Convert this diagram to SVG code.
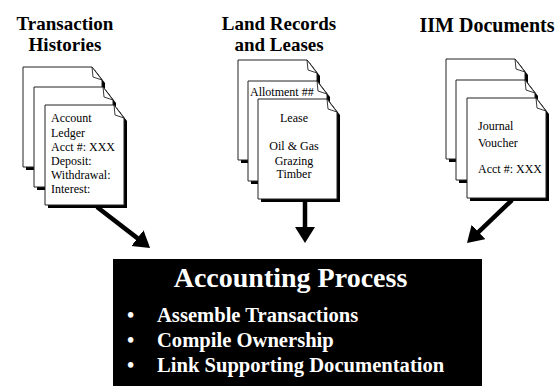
<svg xmlns="http://www.w3.org/2000/svg" width="558" height="386" viewBox="0 0 558 386">
  <style>
    .title { font-family: "Liberation Serif", "Times New Roman", serif; font-weight: bold; font-size: 20px; fill: #000; text-anchor: middle; }
    .title2 { font-size: 19px; }
    .doctext { font-family: "Liberation Serif", "Times New Roman", serif; font-size: 12px; fill: #000; }
    .mid { text-anchor: middle; }
    .proc-title { font-family: "Liberation Serif", "Times New Roman", serif; font-weight: bold; font-size: 28px; fill: #fff; text-anchor: middle; }
    .proc-item { font-family: "Liberation Serif", "Times New Roman", serif; font-weight: bold; font-size: 20.6px; fill: #fff; }
    .conn { stroke: #000; stroke-width: 4.5; fill: none; marker-end: url(#head); }
  </style>
  <defs>
    <!-- page with a dog-eared top-right corner and a drop shadow -->
    <g id="page">
      <path d="M3,3 H72 L82,16 V103 H3 Z" fill="#000"/>
      <path d="M0,0 H69 L79,13 V100 H0 Z" fill="#fff" stroke="#222" stroke-width="1"/>
      <path d="M69,0 L70,10 L79,13 Z" fill="#fff" stroke="#222" stroke-width="0.9"/>
    </g>
    <marker id="head" markerUnits="userSpaceOnUse" markerWidth="18" markerHeight="22" refX="2" refY="10" orient="auto">
      <path d="M0,0 L16,10 L0,20 Z" fill="#000"/>
    </marker>
  </defs>

  <rect width="558" height="386" fill="#fff"/>

  <!-- Transaction Histories -->
  <g id="transaction-histories">
    <text class="title title2" x="65" y="30">Transaction</text>
    <text class="title title2" x="65" y="51">Histories</text>
    <use href="#page" x="23" y="67"/>
    <use href="#page" x="34" y="87"/>
    <use href="#page" x="45" y="105"/>
    <text class="doctext" x="51" y="122">Account</text>
    <text class="doctext" x="51" y="137">Ledger</text>
    <text class="doctext" x="51" y="151">Acct #: XXX</text>
    <text class="doctext" x="51" y="165">Deposit:</text>
    <text class="doctext" x="51" y="179">Withdrawal:</text>
    <text class="doctext" x="51" y="193">Interest:</text>
  </g>

  <!-- Land Records and Leases -->
  <g id="land-records">
    <text class="title title2" x="279" y="30">Land Records</text>
    <text class="title title2" x="279" y="51">and Leases</text>
    <use href="#page" x="238" y="60"/>
    <use href="#page" x="248" y="81"/>
    <text class="doctext" x="250" y="96">Allotment ##</text>
    <use href="#page" x="258" y="99"/>
    <text class="doctext mid" x="294" y="122">Lease</text>
    <text class="doctext mid" x="294" y="150">Oil &amp; Gas</text>
    <text class="doctext mid" x="294" y="165">Grazing</text>
    <text class="doctext mid" x="294" y="178">Timber</text>
  </g>

  <!-- IIM Documents -->
  <g id="iim-documents">
    <text class="title" x="487" y="32">IIM Documents</text>
    <use href="#page" x="446" y="59"/>
    <use href="#page" x="456" y="80"/>
    <use href="#page" x="467" y="98"/>
    <text class="doctext" x="478" y="130">Journal</text>
    <text class="doctext" x="478" y="147">Voucher</text>
    <text class="doctext" x="478" y="173">Acct #: XXX</text>
  </g>

  <!-- arrows into the accounting process -->
  <g id="connectors">
    <line class="conn" x1="97" y1="207" x2="139" y2="239.4"/>
    <line class="conn" x1="305" y1="202" x2="305" y2="229"/>
    <line class="conn" x1="512" y1="200" x2="477.1" y2="233.3"/>
  </g>

  <!-- Accounting Process -->
  <g id="accounting-process">
    <rect x="113" y="259" width="369" height="127" fill="#000"/>
    <text class="proc-title" x="290.5" y="287">Accounting Process</text>
    <text class="proc-item" x="127" y="322">•</text>
    <text class="proc-item" x="157" y="322">Assemble Transactions</text>
    <text class="proc-item" x="127" y="347">•</text>
    <text class="proc-item" x="157" y="347">Compile Ownership</text>
    <text class="proc-item" x="127" y="372">•</text>
    <text class="proc-item" x="157" y="372">Link Supporting Documentation</text>
  </g>
</svg>
